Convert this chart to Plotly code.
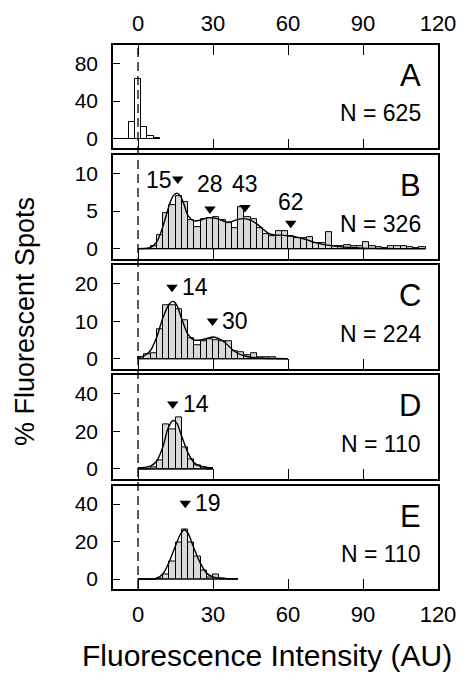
import numpy as np
import plotly.graph_objects as go

# ---------------- data ----------------
BIN_W = 2.5
panel_letters = ["A", "B", "C", "D", "E"]
panel_n = ["N = 625", "N = 326", "N = 224", "N = 110", "N = 110"]
y_steps = [40, 5, 10, 20, 20]
x_ticks = [0, 30, 60, 90, 120]

a_left = [-3.75, -1.25, 1.25, 3.75, 6.25]
a_pct = [18, 64, 12.5, 3, 1]

b_left = [0, 2.5, 5, 7.5, 10, 12.5, 15, 17.5, 20, 22.5, 25, 27.5, 30, 32.5, 35, 37.5,
          40, 42.5, 45, 47.5, 50, 52.5, 55, 57.5, 60, 62.5, 65, 67.5, 70, 72.5, 75, 77.5,
          80, 82.5, 85, 87.5, 90, 92.5, 95, 97.5, 100, 102.5, 105, 107.5, 110, 112.5]
b_pct = [0, 0, 0.3, 1.8, 4.8, 5.8, 7.0, 6.2, 3.8, 2.9, 4.0, 4.1, 4.2, 3.8, 3.4, 2.7,
         5.5, 4.2, 4.0, 2.8, 2.0, 1.7, 2.3, 2.4, 1.7, 1.4, 1.4, 1.5, 0.8, 0.8, 2.2, 0.4,
         0.4, 0.5, 0.3, 0.3, 0.9, 0.4, 0.2, 0.1, 0.3, 0.3, 0.4, 0.2, 0.1, 0.2]
b_fit_x = [0, 2.5, 5, 7.5, 10, 12.5, 14, 15.5, 17, 18.5, 20, 22.5, 25, 27.5, 30, 32.5, 35,
           37.5, 40, 42.5, 45, 47.5, 50, 52.5, 55, 57.5, 60, 62.5, 65, 67.5, 70, 72.5, 75,
           80, 85, 90, 95, 100, 105, 110, 115]
b_fit_y = [0, 0.02, 0.15, 0.9, 3.0, 5.8, 7.0, 7.4, 7.0, 5.8, 4.4, 3.7, 3.8, 4.1, 4.1, 3.9,
           3.6, 3.6, 3.9, 4.0, 3.8, 3.3, 2.6, 2.0, 1.8, 1.8, 1.7, 1.6, 1.4, 1.2, 0.9, 0.7,
           0.5, 0.3, 0.15, 0.07, 0.03, 0.01, 0, 0, 0]

c_left = [0, 2.5, 5, 7.5, 10, 12.5, 15, 17.5, 20, 22.5, 25, 27.5, 30, 32.5, 35, 37.5,
          40, 42.5, 45, 47.5, 50, 52.5, 55, 57.5]
c_pct = [0.4, 1.2, 1.5, 7.8, 14.3, 14.3, 13.2, 10.3, 5.5, 3.6, 4.6, 5.3, 5.0, 4.8, 4.7, 2.0,
         1.8, 0.9, 1.6, 0.5, 0.4, 0.4, 0, 0]
c_fit_x = [0, 2.5, 5, 7.5, 10, 12.5, 14, 15.5, 17.5, 20, 22.5, 25, 27.5, 30, 32.5, 35, 37.5,
           40, 42.5, 45, 50, 55, 60]
c_fit_y = [0.3, 0.8, 2.2, 5.8, 11.0, 14.6, 15.3, 14.3, 10.6, 6.5, 5.0, 5.0, 5.4, 5.8, 5.3,
           4.2, 2.6, 1.4, 0.8, 0.4, 0.15, 0.05, 0]

d_left = [0, 2.5, 5, 7.5, 10, 12.5, 15, 17.5, 20, 22.5, 25, 27.5]
d_pct = [0, 0, 0.9, 4.5, 23.5, 21.0, 27.3, 11.5, 5.3, 1.8, 0.9, 0]
d_fit_x = [0, 2.5, 5, 7.5, 10, 12, 14, 15.5, 17.5, 20, 22.5, 25, 27.5, 30]
d_fit_y = [0.6, 0.8, 1.5, 4.2, 12.0, 21.5, 25.8, 24.4, 17.3, 8.5, 3.2, 1.4, 0.8, 0.6]

e_left = [0, 2.5, 5, 7.5, 10, 12.5, 15, 17.5, 20, 22.5, 25, 27.5, 30, 32.5, 35, 37.5]
e_pct = [0, 0, 0, 0.4, 2.4, 9.5, 19.5, 26.4, 19.5, 11.8, 4.3, 1.0, 2.3, 0.3, 0, 0]
e_fit_x = [0, 5, 7.5, 10, 12, 14.5, 17, 18.5, 20, 22, 25, 27.5, 30, 33, 36, 40]
e_fit_y = [0, 0, 0.4, 2.8, 7.7, 16, 24, 26.3, 24.5, 17.7, 8.3, 3, 1.1, 0.4, 0.2, 0.1]

baseline_x = [[-10, 8.75], [0, 115], [0, 60], [0, 30], [0, 40]]

# peak markers: (arrow x, arrow y, label, label x, label y, label anchor)
peaks = [
    [],
    [(15.9, 9.3, "15", 14.2, 9.1, "right"), (28.8, 5.3, "28", 28.8, 8.6, "center"),
     (42.8, 5.5, "43", 42.6, 8.6, "center"), (61.1, 3.4, "62", 61.0, 6.2, "center")],
    [(13.6, 19.1, "14", 16.6, 19.1, "left"), (29.8, 10.1, "30", 32.6, 10.1, "left")],
    [(13.9, 34.6, "14", 17.0, 34.6, "left")],
    [(18.9, 40.4, "19", 21.9, 40.4, "left")],
]

hists = [(a_left, a_pct), (b_left, b_pct), (c_left, c_pct), (d_left, d_pct), (e_left, e_pct)]
fits = [None, (b_fit_x, b_fit_y), (c_fit_x, c_fit_y), (d_fit_x, d_fit_y), (e_fit_x, e_fit_y)]

# ---------------- figure ----------------
FONT = "Liberation Sans, Arial, Helvetica, sans-serif"
W, H = 458, 671          # page body adds an 8 px offset
ML, MT = 105, 37
PLOT_W, PLOT_H = 325, 544
MR, MB = W - ML - PLOT_W, H - MT - PLOT_H
panel_px = 103.5
gap_px = (PLOT_H - 5 * panel_px) / 4
ph = panel_px / PLOT_H
gap = gap_px / PLOT_H

fig = go.Figure()
layout = dict(
    width=W, height=H, margin=dict(l=ML, r=MR, t=MT, b=MB, autoexpand=False),
    paper_bgcolor="white", plot_bgcolor="white", showlegend=False,
    font=dict(family=FONT, color="black", size=20),
    bargap=0,
)
annotations = []

for i in range(5):
    sfx = "" if i == 0 else str(i + 1)
    xref, yref = "x" + sfx, "y" + sfx
    left, pct = hists[i]
    centers = [l + BIN_W / 2 for l in left]
    fig.add_trace(go.Bar(
        x=centers, y=pct, width=BIN_W, xaxis=xref, yaxis=yref,
        marker=dict(color="white" if i == 0 else "#d9d9d9",
                    line=dict(color="black", width=1)),
    ))
    fig.add_trace(go.Scatter(
        x=baseline_x[i], y=[0, 0], mode="lines", xaxis=xref, yaxis=yref,
        line=dict(color="black", width=1.2),
    ))
    if fits[i] is not None:
        fig.add_trace(go.Scatter(
            x=fits[i][0], y=fits[i][1], mode="lines", xaxis=xref, yaxis=yref,
            line=dict(color="black", width=1.4, shape="spline", smoothing=0.8),
        ))
    if peaks[i]:
        fig.add_trace(go.Scatter(
            x=[p[0] for p in peaks[i]], y=[p[1] for p in peaks[i]], mode="markers",
            xaxis=xref, yaxis=yref,
            marker=dict(symbol="triangle-down", size=10, color="black"),
        ))
        for (_, _, lab, lx, ly, anc) in peaks[i]:
            annotations.append(dict(
                x=lx, y=ly, xref=xref, yref=yref, text=lab, showarrow=False,
                xanchor=anc, yanchor="middle", font=dict(size=23, family=FONT),
            ))

    top = 1 - i * (ph + gap)
    bot = max(0.0, top - ph)
    top = min(1.0, top)
    s = y_steps[i]
    upp = s / 37.5  # data units per pixel
    y0 = -10.0 * upp
    y1 = y0 + panel_px * upp

    xa = dict(
        domain=[0, 1], anchor=yref, range=[-10, 120], tickvals=x_ticks,
        ticktext=[str(t) for t in x_ticks], ticks="inside", ticklen=10,
        tickwidth=1.3, tickcolor="black", showline=True, linecolor="black",
        linewidth=1.5, mirror=True, showgrid=False, zeroline=False,
        showticklabels=(i in (0, 4)), tickfont=dict(size=22, family=FONT),
        fixedrange=True, automargin=False,
    )
    if i == 0:
        xa.update(side="top", mirror="ticks", ticklabelstandoff=3)
    if i == 4:
        xa.update(ticklabelstandoff=5)
    ya = dict(
        domain=[round(bot, 6), round(top, 6)], anchor=xref, range=[y0, y1],
        tickvals=[0, s, 2 * s], ticks="inside", ticklen=7, tickwidth=1.3,
        tickcolor="black", showline=True, linecolor="black", linewidth=1.5,
        mirror=True, showgrid=False, zeroline=False, automargin=False,
        tickfont=dict(size=21, family=FONT), ticklabelstandoff=9, fixedrange=True,
    )
    layout["xaxis" + sfx] = xa
    layout["yaxis" + sfx] = ya

    annotations.append(dict(
        x=114, y=73 / 103.5, xref=xref, yref=yref + " domain", text=panel_letters[i],
        showarrow=False, xanchor="right", yanchor="middle",
        font=dict(size=31, family=FONT),
    ))
    annotations.append(dict(
        x=114, y=35 / 103.5, xref=xref, yref=yref + " domain", text=panel_n[i],
        showarrow=False, xanchor="right", yanchor="middle",
        font=dict(size=23, family=FONT),
    ))

annotations.append(dict(
    x=(25 - 8 - ML) / PLOT_W, y=(MT + PLOT_H - (322 - 8)) / PLOT_H, xref="paper", yref="paper",
    text="% Fluorescent Spots", textangle=-90, showarrow=False,
    xanchor="center", yanchor="middle", font=dict(size=27, family=FONT),
))
annotations.append(dict(
    x=(267 - 8 - ML) / PLOT_W, y=(MT + PLOT_H - (655 - 8)) / PLOT_H, xref="paper", yref="paper",
    text="Fluorescence Intensity (AU)", showarrow=False,
    xanchor="center", yanchor="middle", font=dict(size=30, family=FONT),
))

layout["annotations"] = annotations
layout["shapes"] = [dict(
    type="line", xref="x", yref="paper", x0=0, x1=0, y0=0, y1=1,
    line=dict(color="black", width=1.3, dash="9px,5px"),
)]
fig.update_layout(**layout)
fig.write_html("out.html")
